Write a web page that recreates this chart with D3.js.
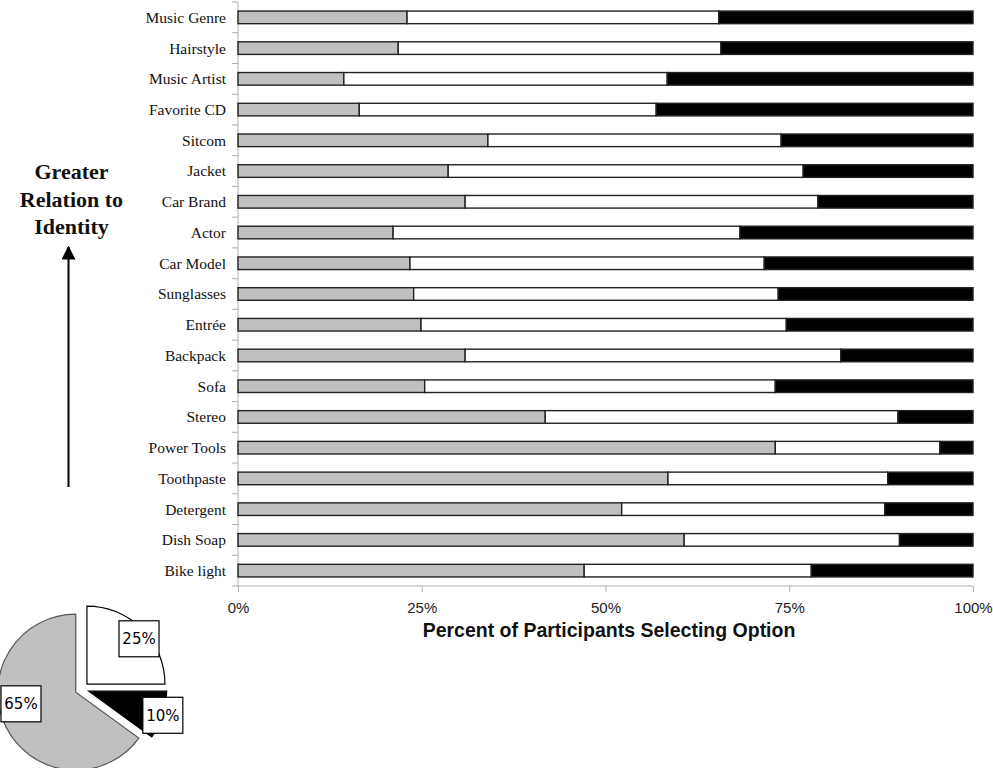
<!DOCTYPE html>
<html>
<head>
<meta charset="utf-8">
<script src="https://cdn.jsdelivr.net/npm/d3@7"></script>
<style>
  body { margin: 0; background: #fff; }
  svg { display: block; }
</style>
</head>
<body>
<svg id="chart" width="993" height="768"></svg>
<script>
// Categories, top to bottom
const categories = ["Music Genre", "Hairstyle", "Music Artist", "Favorite CD", "Sitcom", "Jacket",
  "Car Brand", "Actor", "Car Model", "Sunglasses", "Entrée", "Backpack", "Sofa", "Stereo",
  "Power Tools", "Toothpaste", "Detergent", "Dish Soap", "Bike light"];

// Percent selecting each option (gray / white / black)
const grayPct  = [23.0, 21.8, 14.4, 16.5, 34.0, 28.6, 30.9, 21.1, 23.4, 23.9, 24.9, 30.9, 25.4, 41.8, 73.1, 58.5, 52.2, 60.7, 47.1];
const whitePct = [42.4, 43.9, 44.0, 40.4, 39.9, 48.3, 48.0, 47.2, 48.2, 49.6, 49.7, 51.1, 47.7, 48.0, 22.4, 29.9, 35.8, 29.3, 30.9];
const blackPct = grayPct.map((g, i) => 100 - g - whitePct[i]);

const xTicks = [0, 25, 50, 75, 100];

// Inset pie
const pieLabels = ["25%", "10%", "65%"];
const pieValues = [25, 10, 65];
const pieColors = ["#ffffff", "#000000", "#c0c0c0"];

const svg = d3.select("#chart");
const W = 993, H = 768;
const marginLeft = 238, marginRight = 20, marginTop = 2, marginBottom = 182;
const width = W - marginLeft - marginRight;
const height = H - marginTop - marginBottom;

const g = svg.append("g").attr("transform", "translate(" + marginLeft + "," + marginTop + ")");

const x = d3.scaleLinear().domain([0, 100]).range([0, width]);
const y = d3.scaleBand().domain(categories).range([0, height]).paddingInner(0.59).paddingOuter(0.295);

// Axis lines and ticks (light gray)
const axisColor = "#b0b0b0";
g.append("line").attr("x1", 0).attr("x2", 0).attr("y1", 0).attr("y2", height)
  .attr("stroke", axisColor).attr("stroke-width", 1);
g.append("line").attr("x1", 0).attr("x2", width).attr("y1", height).attr("y2", height)
  .attr("stroke", axisColor).attr("stroke-width", 1);

// y ticks sit between categories
g.selectAll(".ytick")
  .data(d3.range(categories.length + 1))
  .enter().append("line")
  .attr("x1", -6).attr("x2", 0)
  .attr("y1", i => y.range()[0] + i * y.step())
  .attr("y2", i => y.range()[0] + i * y.step())
  .attr("stroke", axisColor);

const xAxis = g.append("g")
  .attr("transform", "translate(0," + height + ")")
  .call(d3.axisBottom(x).tickValues(xTicks).tickSize(6).tickFormat(d => d + "%"));
xAxis.select(".domain").remove();
xAxis.selectAll("line").attr("stroke", axisColor);
xAxis.selectAll("text")
  .attr("dy", "1.2em")
  .style("font-family", "'Liberation Sans', Arial, sans-serif")
  .style("font-size", "15px")
  .attr("fill", "#222");

// Category labels
g.selectAll(".cat")
  .data(categories)
  .enter().append("text")
  .attr("x", -12)
  .attr("y", d => y(d) + y.bandwidth() / 2)
  .attr("dy", "0.35em")
  .attr("text-anchor", "end")
  .style("font-family", "'Liberation Serif', 'Times New Roman', serif")
  .style("font-size", "15.5px")
  .attr("fill", "#111")
  .text(d => d);

// Stacked bars
const rows = categories.map((c, i) => ({ cat: c, gray: grayPct[i], white: whitePct[i], black: blackPct[i] }));
const stack = d3.stack().keys(["gray", "white", "black"]);
const fills = { gray: "#c0c0c0", white: "#ffffff", black: "#000000" };

g.selectAll(".series")
  .data(stack(rows))
  .enter().append("g")
  .attr("fill", d => fills[d.key])
  .selectAll("rect")
  .data(d => d)
  .enter().append("rect")
  .attr("x", d => x(d[0]))
  .attr("width", d => x(d[1]) - x(d[0]))
  .attr("y", d => y(d.data.cat))
  .attr("height", y.bandwidth())
  .attr("stroke", "#222")
  .attr("stroke-width", 1.4);

// X axis title
svg.append("text")
  .attr("x", marginLeft + width / 2 + 3.5)
  .attr("y", 637)
  .attr("text-anchor", "middle")
  .style("font-family", "'Liberation Sans', Arial, sans-serif")
  .style("font-size", "19.5px")
  .style("font-weight", "bold")
  .attr("fill", "#111")
  .text("Percent of Participants Selecting Option");

// Left annotation
const note = svg.append("text")
  .attr("text-anchor", "middle")
  .style("font-family", "'Liberation Serif', 'Times New Roman', serif")
  .style("font-size", "22px")
  .style("font-weight", "bold")
  .attr("fill", "#111");
["Greater", "Relation to", "Identity"].forEach((t, i) => {
  note.append("tspan").attr("x", 71.5).attr("y", 179 + i * 27.5).text(t);
});

svg.append("defs").append("marker")
  .attr("id", "arrow")
  .attr("viewBox", "0 0 10 10")
  .attr("refX", 9).attr("refY", 5)
  .attr("markerWidth", 7).attr("markerHeight", 7)
  .attr("markerUnits", "strokeWidth")
  .attr("orient", "auto")
  .append("path").attr("d", "M0,0 L10,5 L0,10 Z").attr("fill", "#000");

svg.append("line")
  .attr("x1", 68.5).attr("x2", 68.5).attr("y1", 487).attr("y2", 247)
  .attr("stroke", "#000").attr("stroke-width", 2)
  .attr("marker-end", "url(#arrow)");

// Exploded pie
const pieCx = 82, pieCy = 689, pieR = 78, explode = 7;
const pie = d3.pie().sort(null).value(d => d);
const arc = d3.arc().innerRadius(0).outerRadius(pieR);
const slices = pie(pieValues);
const labelR = [69, 78, 56];
const labelShift = [4, 0, 15];

const pg = svg.append("g").attr("transform", "translate(" + pieCx + "," + pieCy + ")");
pg.selectAll("path")
  .data(slices)
  .enter().append("path")
  .attr("transform", d => {
    const a = (d.startAngle + d.endAngle) / 2;
    return "translate(" + (Math.sin(a) * explode) + "," + (-Math.cos(a) * explode) + ")";
  })
  .attr("d", arc)
  .attr("fill", (d, i) => pieColors[i])
  .attr("stroke", (d, i) => i === 2 ? "#555" : "#000")
  .attr("stroke-width", 1.2);

const lab = pg.selectAll(".plab")
  .data(slices)
  .enter().append("g")
  .attr("transform", (d, i) => {
    const a = (d.startAngle + d.endAngle) / 2 + labelShift[i] * Math.PI / 180;
    const ox = Math.sin((d.startAngle + d.endAngle) / 2) * explode;
    const oy = -Math.cos((d.startAngle + d.endAngle) / 2) * explode;
    return "translate(" + (ox + Math.sin(a) * labelR[i]) + "," + (oy - Math.cos(a) * labelR[i]) + ")";
  });
lab.append("rect")
  .attr("x", -20).attr("y", -18).attr("width", 40).attr("height", 36)
  .attr("fill", "#fff").attr("stroke", "#000").attr("stroke-width", 1.2);
lab.append("text")
  .attr("text-anchor", "middle")
  .attr("dy", "0.35em")
  .style("font-family", "'DejaVu Sans', sans-serif")
  .style("font-size", "15px")
  .attr("fill", "#000")
  .text((d, i) => pieLabels[i]);
</script>
</body>
</html>
